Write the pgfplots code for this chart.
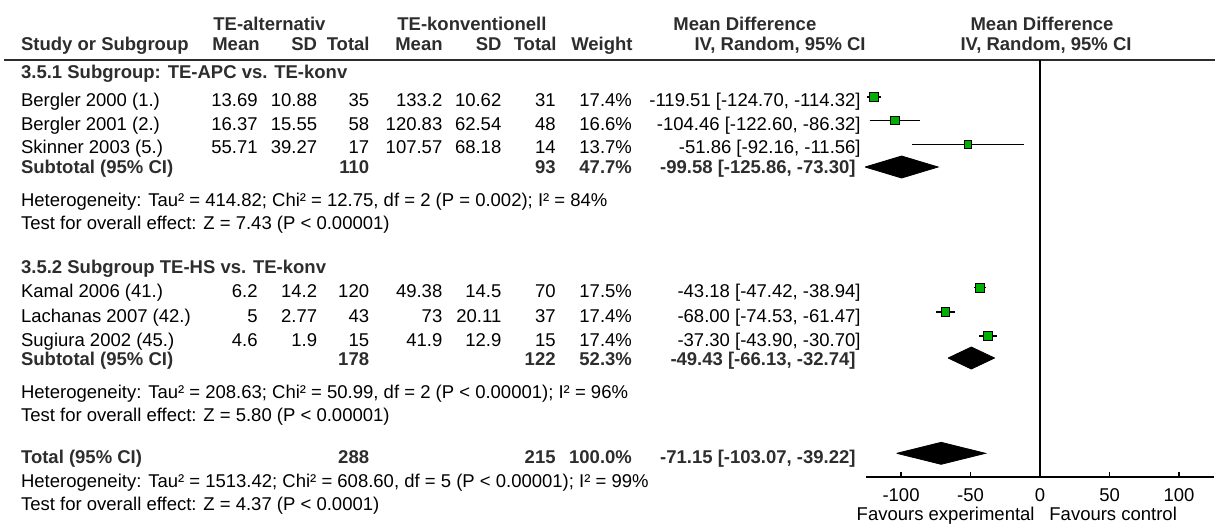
\documentclass[border=0pt]{standalone}
\usepackage{pgfplots}
\pgfplotsset{compat=1.18}
\usepackage{fontspec}
\setmainfont{Liberation Sans}
\definecolor{mkgreen}{RGB}{0,176,0}
\definecolor{hdr}{RGB}{45,45,45}
\newcommand\datarow[9]{%
 \node[tl] at (20.7,-#1) {#2};
 \node[tr] at (258,-#1) {#3};
 \node[tr] at (317.5,-#1) {#4};
 \node[tr] at (369.5,-#1) {#5};
 \node[tr] at (442.7,-#1) {#6};
 \node[tr] at (501.7,-#1) {#7};
 \node[tr] at (556,-#1) {#8};
 \node[tr] at (632.3,-#1) {#9};}
\begin{document}
\begin{tikzpicture}[x=0.5bp,y=0.5bp,
  every node/.style={font=\fontsize{9.25bp}{11bp}\selectfont},
  tl/.style={anchor=base west,inner sep=0pt},
  tr/.style={anchor=base east,inner sep=0pt},
  tc/.style={anchor=base,inner sep=0pt},
  bf/.style={font=\fontsize{9.25bp}{11bp}\selectfont\bfseries,text=hdr}]
\useasboundingbox (0,0) rectangle (1215,-524);
\draw[line width=0.7bp,hdr] (4,-60) -- (1215,-60);
\begin{axis}[at={(433.125bp,-238.5bp)}, anchor=south west,
  x=0.695bp, y=0.5bp, xmin=-125, xmax=125, ymin=-477, ymax=-60,
  axis x line*=bottom, axis y line=none, clip=false, enlargelimits=false,
  xtick={-100,-50,0,50,100}, xticklabels={-100,-50,0,50,100},
  xtick align=inside, major tick length=2.65bp,
  tick style={black,line width=0.6bp}, axis line style={black,line width=0.7bp},
  xticklabel style={anchor=base,inner sep=0pt,yshift=-12.35bp,font=\fontsize{9.25bp}{11bp}\selectfont}]
% zero line
\addplot[black,line width=0.6bp] coordinates {(0,-60) (0,-477)};
% confidence intervals
\addplot[black,line width=0.6bp] coordinates {(-124.70,-97) (-114.32,-97)};
\addplot[black,line width=0.6bp] coordinates {(-122.60,-120.5) (-86.32,-120.5)};
\addplot[black,line width=0.6bp] coordinates {(-92.16,-144.5) (-11.56,-144.5)};
\addplot[black,line width=0.6bp] coordinates {(-47.42,-287.7) (-38.94,-287.7)};
\addplot[black,line width=0.6bp] coordinates {(-74.53,-312) (-61.47,-312)};
\addplot[black,line width=0.6bp] coordinates {(-43.90,-336) (-30.70,-336)};
% study estimates
\addplot[only marks,mark=square*,mark size=2.15bp,mark options={fill=mkgreen,draw=black,line width=0.45bp}]
  coordinates {(-119.51,-97) (-104.46,-120.5) (-43.18,-287.7) (-68.00,-312) (-37.30,-336)};
\addplot[only marks,mark=square*,mark size=1.9bp,mark options={fill=mkgreen,draw=black,line width=0.45bp}]
  coordinates {(-51.86,-144.5)};
% pooled diamonds
\addplot[fill=black,draw=black] coordinates {(-125.86,-167) (-99.58,-156) (-73.30,-167) (-99.58,-178) (-125.86,-167)};
\addplot[fill=black,draw=black] coordinates {(-66.13,-358) (-49.43,-347) (-32.74,-358) (-49.43,-369) (-66.13,-358)};
\addplot[fill=black,draw=black] coordinates {(-103.07,-453.3) (-71.15,-442.3) (-39.22,-453.3) (-71.15,-464.3) (-103.07,-453.3)};
\end{axis}
% headers
\node[tl,bf] at (213,-30.5) {TE-alternativ};
\node[tl,bf] at (397,-30.5) {TE-konventionell};
\node[tl,bf] at (673,-30.5) {Mean Difference};
\node[tc,bf] at (1042,-30.5) {Mean Difference};
\node[tl,bf] at (20.7,-51) {Study or Subgroup};
\node[tr,bf] at (260,-51) {Mean};
\node[tr,bf] at (317.5,-51) {SD};
\node[tr,bf] at (370,-51) {Total};
\node[tr,bf] at (443,-51) {Mean};
\node[tr,bf] at (502,-51) {SD};
\node[tr,bf] at (557,-51) {Total};
\node[tr,bf] at (633,-51) {Weight};
\node[tr,bf] at (866,-51) {IV, Random, 95\% CI};
\node[tc,bf] at (1046,-51) {IV, Random, 95\% CI};
% subgroup 1
\node[tl,bf] at (20.7,-79) {3.5.1 Subgroup: TE-APC vs. TE-konv};
\datarow{107}{Bergler 2000 (1.)}{13.69}{10.88}{35}{133.2}{10.62}{31}{17.4\%}
\node[tr] at (861,-107) {-119.51 [-124.70, -114.32]};
\datarow{130.5}{Bergler 2001 (2.)}{16.37}{15.55}{58}{120.83}{62.54}{48}{16.6\%}
\node[tr] at (861,-130.5) {-104.46 [-122.60, -86.32]};
\datarow{154}{Skinner 2003 (5.)}{55.71}{39.27}{17}{107.57}{68.18}{14}{13.7\%}
\node[tr] at (861,-154) {-51.86 [-92.16, -11.56]};
\node[tl,bf] at (20.7,-173.5) {Subtotal (95\% CI)};
\node[tr,bf] at (369.5,-173.5) {110};
\node[tr,bf] at (556,-173.5) {93};
\node[tr,bf] at (632.3,-173.5) {47.7\%};
\node[tr,bf] at (856,-173.5) {-99.58 [-125.86, -73.30]};
\node[tl] at (20.7,-206.5) {Heterogeneity: Tau² = 414.82; Chi² = 12.75, df = 2 (P = 0.002); I² = 84\%};
\node[tl] at (20.7,-230) {Test for overall effect: Z = 7.43 (P < 0.00001)};
% subgroup 2
\node[tl,bf] at (20.7,-273.5) {3.5.2 Subgroup TE-HS vs. TE-konv};
\datarow{297.7}{Kamal 2006 (41.)}{6.2}{14.2}{120}{49.38}{14.5}{70}{17.5\%}
\node[tr] at (861,-297.7) {-43.18 [-47.42, -38.94]};
\datarow{322}{Lachanas 2007 (42.)}{5}{2.77}{43}{73}{20.11}{37}{17.4\%}
\node[tr] at (861,-322) {-68.00 [-74.53, -61.47]};
\datarow{346}{Sugiura 2002 (45.)}{4.6}{1.9}{15}{41.9}{12.9}{15}{17.4\%}
\node[tr] at (861,-346) {-37.30 [-43.90, -30.70]};
\node[tl,bf] at (20.7,-365) {Subtotal (95\% CI)};
\node[tr,bf] at (369.5,-365) {178};
\node[tr,bf] at (556,-365) {122};
\node[tr,bf] at (632.3,-365) {52.3\%};
\node[tr,bf] at (856,-365) {-49.43 [-66.13, -32.74]};
\node[tl] at (20.7,-398) {Heterogeneity: Tau² = 208.63; Chi² = 50.99, df = 2 (P < 0.00001); I² = 96\%};
\node[tl] at (20.7,-421.5) {Test for overall effect: Z = 5.80 (P < 0.00001)};
% total
\node[tl,bf] at (20.7,-463) {Total (95\% CI)};
\node[tr,bf] at (369.5,-463) {288};
\node[tr,bf] at (556,-463) {215};
\node[tr,bf] at (632.3,-463) {100.0\%};
\node[tr,bf] at (856,-463) {-71.15 [-103.07, -39.22]};
\node[tl] at (20.7,-487) {Heterogeneity: Tau² = 1513.42; Chi² = 608.60, df = 5 (P < 0.00001); I² = 99\%};
\node[tl] at (20.7,-510) {Test for overall effect: Z = 4.37 (P < 0.0001)};
% favours
\node[tr] at (1035,-520) {Favours experimental};
\node[tl] at (1049,-520) {Favours control};
\end{tikzpicture}
\end{document}
